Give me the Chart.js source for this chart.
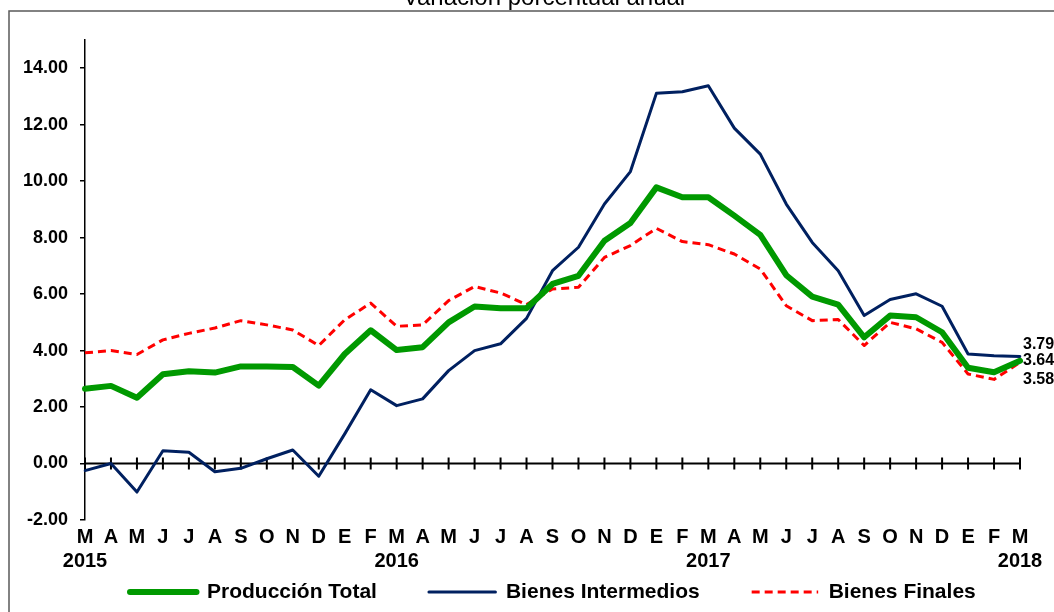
<!DOCTYPE html>
<html>
<head>
<meta charset="utf-8">
<script src="https://cdn.jsdelivr.net/npm/chart.js@4.4.1/dist/chart.umd.min.js"></script>
<style>
  html, body { margin: 0; padding: 0; background: #ffffff; overflow: hidden; }
  canvas { display: block; }
</style>
</head>
<body>
<canvas id="chart" width="1054" height="612"></canvas>
<script>
// ---- Data ----
const titleText = 'Variación porcentual anual';
const months = ['M','A','M','J','J','A','S','O','N','D','E','F',
                'M','A','M','J','J','A','S','O','N','D','E','F',
                'M','A','M','J','J','A','S','O','N','D','E','F',
                'M'];
const years = ['2015','','','','','','','','','','','',
               '2016','','','','','','','','','','','',
               '2017','','','','','','','','','','','',
               '2018'];
const yTickValues = [-2, 0, 2, 4, 6, 8, 10, 12, 14];
const seriesNames = ['Producción Total', 'Bienes Intermedios', 'Bienes Finales'];

const produccionTotal = [2.65, 2.75, 2.33, 3.16, 3.27, 3.22, 3.44, 3.44, 3.42, 2.76, 3.88, 4.72,
                         4.02, 4.12, 5.00, 5.56, 5.50, 5.50, 6.36, 6.65, 7.89, 8.52, 9.78, 9.43,
                         9.43, 8.78, 8.10, 6.67, 5.91, 5.63, 4.47, 5.24, 5.18, 4.65, 3.39, 3.23,
                         3.64];
const bienesIntermedios = [-0.25, 0.00, -1.01, 0.45, 0.40, -0.29, -0.17, 0.17, 0.48, -0.45, 1.05, 2.61,
                           2.05, 2.29, 3.29, 4.00, 4.24, 5.14, 6.83, 7.66, 9.19, 10.34, 13.11, 13.17,
                           13.38, 11.88, 10.96, 9.19, 7.83, 6.83, 5.24, 5.81, 6.01, 5.57, 3.88, 3.82,
                           3.79];
const bienesFinales = [3.92, 4.00, 3.86, 4.38, 4.61, 4.80, 5.06, 4.91, 4.73, 4.18, 5.09, 5.68,
                       4.86, 4.91, 5.77, 6.27, 6.04, 5.63, 6.18, 6.24, 7.30, 7.72, 8.33, 7.86,
                       7.75, 7.42, 6.89, 5.59, 5.06, 5.10, 4.18, 5.00, 4.77, 4.29, 3.17, 2.98,
                       3.58];

// ---- Styling ----
const FONT = "'Liberation Sans', Arial, sans-serif";
const labels = months.map((m, i) => [m, years[i]]);
const endLabelOffsets = [0, -12, 17]; // vertical offsets for the end-value labels

const decorPlugin = {
  id: 'decor',
  afterLayout(chart) {
    // place the legend row like the reference (one row, starting at x=130, text centred ~y=592)
    const lg = chart.legend;
    if (lg) {
      lg.left = 78; lg.right = 1300; lg.width = lg.right - lg.left;
      lg.top = 529.5; lg.bottom = 612.5; lg.height = 83;
    }
  },
  beforeDraw(chart) {
    const ctx = chart.ctx;
    ctx.save();
    ctx.fillStyle = '#ffffff';
    ctx.fillRect(0, 0, chart.width, chart.height);
    ctx.strokeStyle = '#5a5a5a';
    ctx.lineWidth = 1.5;
    ctx.strokeRect(9, 11, 1200, 800);
    ctx.fillStyle = '#000000';
    ctx.font = '24px ' + FONT;
    ctx.textAlign = 'center';
    ctx.textBaseline = 'alphabetic';
    ctx.fillText(titleText, 544, 5);
    ctx.restore();
  },
  beforeDatasetsDraw(chart) {
    const {ctx, chartArea} = chart;
    const x = chart.scales.x, y = chart.scales.y;
    const y0 = y.getPixelForValue(0);
    ctx.save();
    ctx.strokeStyle = '#000000';
    ctx.lineWidth = 2;
    ctx.beginPath();
    ctx.moveTo(chartArea.left, y0);
    ctx.lineTo(chartArea.right + 1, y0);
    for (let i = 0; i < x.ticks.length; i++) {
      const px = x.getPixelForTick(i);
      ctx.moveTo(px, y0 - 6);
      ctx.lineTo(px, y0 + 6);
    }
    ctx.stroke();
    ctx.restore();
  },
  afterDatasetsDraw(chart) {
    const ctx = chart.ctx;
    ctx.save();
    ctx.fillStyle = '#000000';
    ctx.font = 'bold 16px ' + FONT;
    ctx.textAlign = 'left';
    ctx.textBaseline = 'middle';
    chart.data.datasets.forEach((ds, di) => {
      const meta = chart.getDatasetMeta(di);
      const last = meta.data.length - 1;
      const pt = meta.data[last];
      ctx.fillText(ds.data[last].toFixed(2), pt.x + 3, pt.y + endLabelOffsets[di]);
    });
    ctx.restore();
  }
};

new Chart(document.getElementById('chart'), {
  type: 'line',
  data: {
    labels: labels,
    datasets: [
      {
        label: seriesNames[0],
        data: produccionTotal,
        borderColor: '#009900',
        backgroundColor: '#009900',
        borderWidth: 6,
        borderCapStyle: 'round',
        borderJoinStyle: 'round',
        pointRadius: 0,
        tension: 0
      },
      {
        label: seriesNames[1],
        data: bienesIntermedios,
        borderColor: '#002060',
        backgroundColor: '#002060',
        borderWidth: 3,
        borderCapStyle: 'round',
        borderJoinStyle: 'round',
        pointRadius: 0,
        tension: 0
      },
      {
        label: seriesNames[2],
        data: bienesFinales,
        borderColor: '#ff0000',
        backgroundColor: '#ff0000',
        borderWidth: 3,
        borderDash: [8, 5],
        borderJoinStyle: 'round',
        pointRadius: 0,
        tension: 0
      }
    ]
  },
  options: {
    responsive: false,
    animation: false,
    events: [],
    layout: { padding: { left: 9, right: 34, top: 40, bottom: 0 } },
    scales: {
      x: {
        type: 'category',
        offset: false,
        afterFit(scale) { scale.height = 60; },
        grid: { display: false, drawTicks: false },
        border: { display: false },
        ticks: {
          autoSkip: false,
          maxRotation: 0,
          minRotation: 0,
          padding: 5,
          color: '#000000',
          font: { family: FONT, size: 20, weight: 'bold', lineHeight: 1.2 }
        }
      },
      y: {
        min: -2,
        max: 15,
        afterFit(scale) { scale.width = 76; },
        afterBuildTicks(scale) { scale.ticks = yTickValues.map(v => ({ value: v })); },
        grid: {
          display: true,
          drawOnChartArea: false,
          drawTicks: true,
          tickLength: 5,
          color: '#000000',
          lineWidth: 1.5
        },
        border: { display: true, color: '#000000', width: 1.5 },
        ticks: {
          padding: 12,
          color: '#000000',
          font: { family: FONT, size: 18, weight: 'bold' },
          callback: (v) => Number(v).toFixed(2)
        }
      }
    },
    plugins: {
      title: { display: false },
      tooltip: { enabled: false },
      legend: {
        display: true,
        position: 'bottom',
        align: 'start',
        maxHeight: 32,
        labels: {
          usePointStyle: true,
          pointStyle: 'line',
          pointStyleWidth: 66.5,
          padding: 52,
          color: '#000000',
          font: { family: FONT, size: 21, weight: 'bold' },
          generateLabels(chart) {
            const items = Chart.defaults.plugins.legend.labels.generateLabels(chart);
            items.forEach((it) => {
              const ds = chart.data.datasets[it.datasetIndex];
              it.lineDash = ds.borderDash || [];
              it.lineCap = ds.borderCapStyle || 'butt';
              it.strokeStyle = ds.borderColor;
              it.lineWidth = ds.borderWidth;
            });
            return items;
          }
        }
      }
    }
  },
  plugins: [decorPlugin]
});
</script>
</body>
</html>
